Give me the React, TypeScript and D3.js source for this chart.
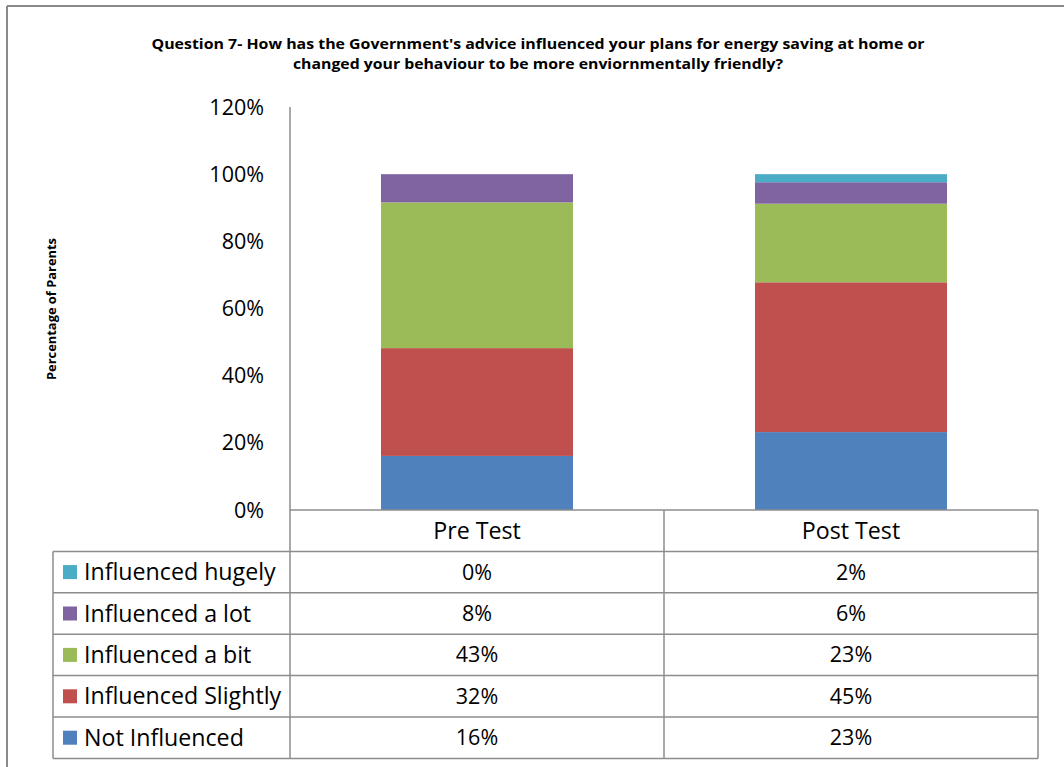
import React from "react";
import * as d3 from "d3";

const categories = ["Pre Test", "Post Test"];
const seriesNames = [
  "Not Influenced",
  "Influenced Slightly",
  "Influenced a bit",
  "Influenced a lot",
  "Influenced hugely",
];
const seriesColors = ["#4F81BD", "#C0504D", "#9BBB59", "#8064A2", "#4BACC6"];
const preTest = [0.161, 0.321, 0.434, 0.084, 0.0];
const postTest = [0.232, 0.446, 0.234, 0.064, 0.024];
const yTicks = [0, 0.2, 0.4, 0.6, 0.8, 1.0, 1.2];
const titleLines = [
  "Question 7- How has the Government's advice influenced your plans for energy saving at home or",
  "changed your behaviour to be more enviornmentally friendly?",
];
const yAxisTitle = "Percentage of Parents";

const FONT = "'Open Sans', Lato, sans-serif";

export default function App() {
  const W = 1064;
  const H = 767;
  const plotLeft = 290;
  const plotRight = 1038;
  const tableLeft = 53;
  const y = d3.scaleLinear().domain([0, 1.2]).range([510, 107]);
  const x = d3
    .scaleBand<string>()
    .domain(categories)
    .range([plotLeft, plotRight])
    .paddingInner(0.4866)
    .paddingOuter(0.2433);
  const step = x.step();
  const values: Record<string, number[]> = {
    "Pre Test": preTest,
    "Post Test": postTest,
  };

  const tableData = categories.map((c) => {
    const o: any = { cat: c };
    seriesNames.forEach((s, i) => (o[s] = values[c][i]));
    return o;
  });
  const stack = d3.stack<any>().keys(seriesNames);
  const stacked = stack(tableData);

  const headerTop = y(0);
  const rowH = 41.4;
  const headerBottom = headerTop + rowH;
  const rowsOrder = [...seriesNames].reverse();
  const tableBottom = headerBottom + rowH * rowsOrder.length;
  const gridColor = "#8c8c8c";
  const fmt = d3.format(".0%");
  const titleWidths = [773, 490];
  const labelSize = 23.2;
  const numSize = 21.5;

  return (
    <svg
      width={W}
      height={H}
      style={{ position: "absolute", left: 0, top: 0, background: "#fff" }}
      fontFamily={FONT}
    >
      <rect x={0} y={0} width={W} height={H} fill="#fff" />
      {/* outer frame */}
      <line x1={7} y1={6} x2={W} y2={6} stroke="#898989" strokeWidth={2} />
      <line x1={7} y1={6} x2={7} y2={H} stroke="#898989" strokeWidth={2} />

      {/* title */}
      {titleLines.map((t, i) => (
        <text
          key={i}
          x={538}
          y={49 + i * 20}
          textAnchor="middle"
          fontWeight="bold"
          fontSize={14}
          fill="#000"
          textLength={titleWidths[i]}
          lengthAdjust="spacingAndGlyphs"
        >
          {t}
        </text>
      ))}

      {/* y axis title */}
      <text
        transform={`translate(56,309) rotate(-90)`}
        textAnchor="middle"
        fontWeight="bold"
        fontSize={12}
        fill="#000"
        textLength={142}
        lengthAdjust="spacingAndGlyphs"
      >
        {yAxisTitle}
      </text>

      {/* y tick labels */}
      {yTicks.map((t) => (
        <text
          key={t}
          x={264}
          y={y(t)}
          dy="0.35em"
          textAnchor="end"
          fontSize={numSize}
          fill="#000"
        >
          {fmt(t)}
        </text>
      ))}

      {/* bars */}
      {stacked.map((layer, li) =>
        layer.map((d, ci) => {
          const cat = categories[ci];
          const h = y(d[0]) - y(d[1]);
          if (h <= 0) return null;
          return (
            <rect
              key={`${li}-${ci}`}
              x={x(cat)}
              y={y(d[1])}
              width={x.bandwidth()}
              height={h}
              fill={seriesColors[li]}
            />
          );
        })
      )}

      {/* y axis line */}
      <line
        x1={plotLeft}
        y1={y(1.2)}
        x2={plotLeft}
        y2={y(0)}
        stroke={gridColor}
        strokeWidth={1.5}
      />

      {/* data table */}
      <g stroke={gridColor} strokeWidth={1.5} fill="none">
        <line x1={plotLeft} y1={headerTop} x2={plotRight} y2={headerTop} />
        <line x1={tableLeft} y1={headerBottom} x2={plotRight} y2={headerBottom} />
        {rowsOrder.map((_, i) => (
          <line
            key={i}
            x1={tableLeft}
            y1={headerBottom + rowH * (i + 1)}
            x2={plotRight}
            y2={headerBottom + rowH * (i + 1)}
          />
        ))}
        <line x1={tableLeft} y1={headerBottom} x2={tableLeft} y2={tableBottom} />
        <line x1={plotLeft} y1={headerTop} x2={plotLeft} y2={tableBottom} />
        {categories.map((c, i) => (
          <line
            key={c}
            x1={plotLeft + step * (i + 1)}
            y1={headerTop}
            x2={plotLeft + step * (i + 1)}
            y2={tableBottom}
          />
        ))}
      </g>

      {/* header labels */}
      {categories.map((c) => (
        <text
          key={c}
          x={(x(c) as number) + x.bandwidth() / 2}
          y={headerTop + rowH / 2}
          dy="0.35em"
          textAnchor="middle"
          fontSize={labelSize}
          fill="#000"
        >
          {c}
        </text>
      ))}

      {/* rows */}
      {rowsOrder.map((s, i) => {
        const si = seriesNames.indexOf(s);
        const cy = headerBottom + rowH * i + rowH / 2;
        return (
          <g key={s}>
            <rect x={63} y={cy - 7} width={14} height={14} fill={seriesColors[si]} />
            <text x={84} y={cy} dy="0.35em" fontSize={labelSize} fill="#000">
              {s}
            </text>
            {categories.map((c) => (
              <text
                key={c}
                x={(x(c) as number) + x.bandwidth() / 2}
                y={cy}
                dy="0.35em"
                textAnchor="middle"
                fontSize={numSize}
                fill="#000"
              >
                {fmt(values[c][si])}
              </text>
            ))}
          </g>
        );
      })}
    </svg>
  );
}
